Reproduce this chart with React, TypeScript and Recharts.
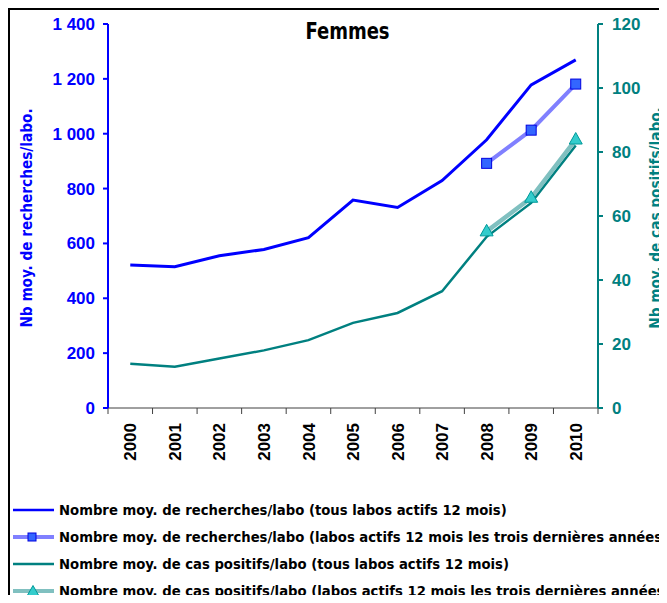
import React from 'react';
import { LineChart, Line, XAxis, YAxis } from 'recharts';

const years = [2000, 2001, 2002, 2003, 2004, 2005, 2006, 2007, 2008, 2009, 2010];
const searchesAll = [521, 515, 555, 578, 621, 758, 731, 829, 978, 1178, 1269];
const searchesSteady = [null, null, null, null, null, null, null, null, 892, 1013, 1181];
const positivesAll = [13.8, 12.9, 15.5, 18.0, 21.2, 26.6, 29.7, 36.5, 53.5, 64.1, 82.0];
const positivesSteady = [null, null, null, null, null, null, null, null, 55.2, 65.7, 83.9];
const leftTicks = [0, 200, 400, 600, 800, 1000, 1200, 1400];
const rightTicks = [0, 20, 40, 60, 80, 100, 120];

const legendLabels = [
  'Nombre moy. de recherches/labo (tous labos actifs 12 mois)',
  'Nombre moy. de recherches/labo (labos actifs 12 mois les trois dernières années)',
  'Nombre moy. de cas positifs/labo (tous labos actifs 12 mois)',
  'Nombre moy. de cas positifs/labo (labos actifs 12 mois les trois dernières années)',
];

const data = years.map((year, i) => ({
  year,
  searchesAll: searchesAll[i],
  searchesSteady: searchesSteady[i],
  positivesAll: positivesAll[i],
  positivesSteady: positivesSteady[i],
}));

const BLUE = '#0000ff';
const LIGHT_BLUE = '#8080ff';
const TEAL = '#008080';
const LIGHT_TEAL = '#80c0c0';
const SANS = "'Liberation Sans', Arial, sans-serif";
const COND = "'DejaVu Sans Condensed', 'DejaVu Sans', sans-serif";

const W = 659;
const H = 595;
const LEFT_W = 100;
const RIGHT_W = 69;
const PLOT_W = W - LEFT_W - RIGHT_W;
const HALF_BAND = PLOT_W / years.length / 2;

const boundaries = [...years.map((y) => y - 0.5), years[years.length - 1] + 0.5];

const fmt = (v: number) => String(v).replace(/\B(?=(\d{3})+(?!\d))/g, ' ');

const YearTick = (props: any) => {
  const { x, y, payload } = props;
  const year = payload.value + 0.5;
  if (year > years[years.length - 1]) return null;
  return (
    <text
      transform={`translate(${x + HALF_BAND},${y + 9}) rotate(-90)`}
      textAnchor="end"
      dy="0.36em"
      fill="#000"
      fontFamily={SANS}
      fontWeight="bold"
      fontSize={17}
    >
      {year}
    </text>
  );
};

const SquareDot = (props: any) => {
  const { cx, cy } = props;
  if (cx == null || cy == null) return null;
  return <rect x={cx - 5} y={cy - 5} width={10} height={10} fill="#3366ff" stroke="#0000e0" strokeWidth={1} />;
};

const TriangleDot = (props: any) => {
  const { cx, cy } = props;
  if (cx == null || cy == null) return null;
  return (
    <polygon
      points={`${cx},${cy - 7} ${cx + 6.5},${cy + 4.5} ${cx - 6.5},${cy + 4.5}`}
      fill="#33cccc"
      stroke="#009999"
      strokeWidth={1}
    />
  );
};

const AxisTitle = (props: any) => {
  const { viewBox, value, color, dx } = props;
  const x = viewBox.x + dx;
  const y = viewBox.y + viewBox.height / 2 + 2;
  return (
    <text
      transform={`translate(${x},${y}) rotate(-90)`}
      textAnchor="middle"
      dy="0.36em"
      fill={color}
      fontFamily={COND}
      fontWeight="bold"
      fontSize={15.2}
    >
      {value}
    </text>
  );
};

const LegendSample = ({ index }: { index: number }) => {
  const colors = [BLUE, LIGHT_BLUE, TEAL, LIGHT_TEAL];
  const widths = [2.5, 4, 2.5, 4];
  return (
    <svg width={47} height={16} style={{ display: 'block', flex: 'none' }}>
      <line x1={5} y1={8} x2={46} y2={8} stroke={colors[index]} strokeWidth={widths[index]} />
      {index === 1 && <rect x={20} y={4} width={8} height={8} fill="#3366ff" stroke="#0000e0" strokeWidth={1} />}
      {index === 3 && <polygon points="25,2.5 31,13 19,13" fill="#33cccc" stroke="#009999" strokeWidth={1} />}
    </svg>
  );
};

export default function App() {
  return (
    <div style={{ position: 'relative', width: W, height: H, marginBottom: -8, overflow: 'hidden', background: '#fff' }}>
      <LineChart
        width={W}
        height={H}
        data={data}
        margin={{ top: 16, right: 0, bottom: 0, left: 0 }}
        style={{ position: 'absolute', left: 0, top: 0 }}
      >
        <text
          transform="translate(339.5,22.5) scale(0.87,1)"
          dy="0.36em"
          textAnchor="middle"
          fontFamily={COND}
          fontWeight="bold"
          fontSize={23}
          fill="#000"
        >
          Femmes
        </text>
        <XAxis
          dataKey="year"
          type="number"
          domain={[boundaries[0], boundaries[boundaries.length - 1]]}
          ticks={boundaries}
          interval={0}
          height={H - 16 - 384}
          tickSize={6}
          tickMargin={0}
          stroke="#404040"
          tick={<YearTick />}
        />
        <YAxis
          yAxisId="left"
          orientation="left"
          width={LEFT_W}
          domain={[0, 1400]}
          ticks={leftTicks}
          interval={0}
          tickFormatter={fmt}
          tickSize={5}
          tickMargin={8}
          stroke={BLUE}
          axisLine={{ stroke: BLUE, strokeWidth: 2 }}
          tickLine={{ stroke: BLUE, strokeWidth: 2 }}
          tick={{ fill: BLUE, fontFamily: SANS, fontWeight: 'bold', fontSize: 17 }}
          label={<AxisTitle value="Nb moy. de recherches/labo." color={BLUE} dx={19} />}
        />
        <YAxis
          yAxisId="right"
          orientation="right"
          width={RIGHT_W}
          domain={[0, 120]}
          ticks={rightTicks}
          interval={0}
          tickSize={5}
          tickMargin={9}
          stroke={TEAL}
          axisLine={{ stroke: TEAL, strokeWidth: 2 }}
          tickLine={{ stroke: TEAL, strokeWidth: 2 }}
          tick={{ fill: TEAL, fontFamily: SANS, fontWeight: 'bold', fontSize: 17 }}
          label={<AxisTitle value="Nb moy. de cas positifs/labo." color={TEAL} dx={58} />}
        />
        <Line yAxisId="left" dataKey="searchesAll" stroke={BLUE} strokeWidth={3} dot={false} isAnimationActive={false} />
        <Line yAxisId="right" dataKey="positivesAll" stroke={TEAL} strokeWidth={2.5} dot={false} isAnimationActive={false} />
        <Line
          yAxisId="left"
          dataKey="searchesSteady"
          stroke={LIGHT_BLUE}
          strokeWidth={4}
          dot={<SquareDot />}
          isAnimationActive={false}
        />
        <Line
          yAxisId="right"
          dataKey="positivesSteady"
          stroke={LIGHT_TEAL}
          strokeWidth={4.5}
          dot={<TriangleDot />}
          isAnimationActive={false}
        />
      </LineChart>
      <div
        style={{
          position: 'absolute',
          left: 0,
          top: 0,
          width: '100%',
          height: '100%',
          borderLeft: '2px solid #000',
          borderTop: '2px solid #000',
          boxSizing: 'border-box',
          pointerEvents: 'none',
        }}
      />
      <div style={{ position: 'absolute', left: 0, top: 488 }}>
        {legendLabels.map((label, i) => (
          <div key={i} style={{ display: 'flex', alignItems: 'center', height: 27, whiteSpace: 'nowrap' }}>
            <LegendSample index={i} />
            <span style={{ marginLeft: 4, fontFamily: COND, fontWeight: 'bold', fontSize: 14.7, color: '#000' }}>{label}</span>
          </div>
        ))}
      </div>
    </div>
  );
}
